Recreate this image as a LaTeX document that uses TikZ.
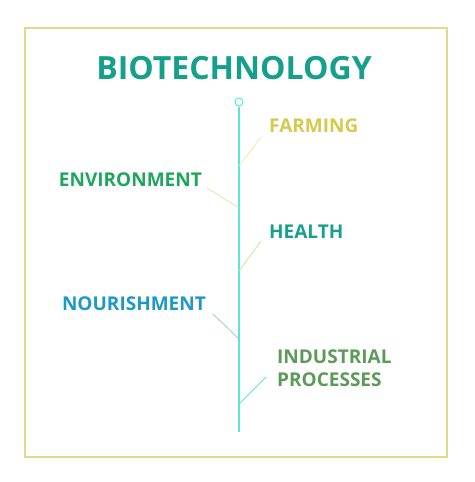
\documentclass[tikz,border=0pt]{standalone}
\usepackage{fontspec}
\setmainfont{Open Sans}
\definecolor{framecol}{HTML}{E3D98C}
\definecolor{titlecol}{HTML}{16A08C}
\definecolor{stemcol}{HTML}{5CE3DA}
\definecolor{farmcol}{HTML}{D6C94E}
\definecolor{envcol}{HTML}{1DA65C}
\definecolor{healthcol}{HTML}{17A08E}
\definecolor{nourcol}{HTML}{1E98C8}
\definecolor{indcol}{HTML}{5C9A58}
\tikzset{
  label/.style={inner sep=0pt,font=\bfseries\fontsize{19}{23}\selectfont},
  twig/.style={line width=0.8pt}
}
\begin{document}
\begin{tikzpicture}[x=1pt,y=-1pt]
\useasboundingbox (0,0) rectangle (474,482);
\draw[framecol,line width=1.2pt] (25,28) rectangle (447,457);
\node[inner sep=0pt,text=titlecol,font=\bfseries\fontsize{32}{38}\selectfont] (title) at (234,68) {BIOTECHNOLOGY};
% stem
\node[draw=stemcol,circle,line width=1pt,minimum size=8pt,inner sep=0pt] (top) at (239,102) {};
\coordinate (bot) at (239,432);
\draw[stemcol,line width=1.2pt] (top) -- (bot);
% branches
\coordinate (f0) at (239,166);
\coordinate (f1) at (261,137);
\coordinate (e0) at (239,208);
\coordinate (e1) at (207,188);
\coordinate (h0) at (239,271);
\coordinate (h1) at (261,241);
\coordinate (n0) at (239,339);
\coordinate (n1) at (213,314);
\coordinate (i0) at (239,404);
\coordinate (i1) at (266,377);
\draw[twig,color={rgb,255:red,236;green,236;blue,170}] (f0) -- (f1);
\draw[twig,color={rgb,255:red,228;green,230;blue,170}] (e0) -- (e1);
\draw[twig,color={rgb,255:red,200;green,230;blue,160}] (h0) -- (h1);
\draw[twig,color={rgb,255:red,150;green,218;blue,160}] (n0) -- (n1);
\draw[twig,color={rgb,255:red,110;green,222;blue,200}] (i0) -- (i1);
% labels
\node[label,text=farmcol,anchor=west] (farm) at (269,126) {FARMING};
\node[label,text=envcol,anchor=east] (env) at (202,180) {ENVIRONMENT};
\node[label,text=healthcol,anchor=west] (health) at (269,232) {HEALTH};
\node[label,text=nourcol,anchor=east] (nour) at (206,304) {NOURISHMENT};
\node[label,text=indcol,anchor=west,align=left] (ind) at (277,368) {INDUSTRIAL\\PROCESSES};
\end{tikzpicture}
\end{document}
